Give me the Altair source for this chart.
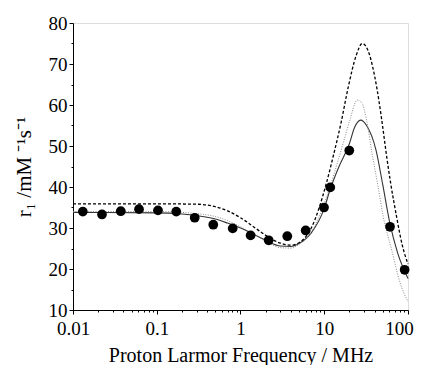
import altair as alt
import pandas as pd

# Measured relaxivity points
pt_freq = [0.0131, 0.0222, 0.0372, 0.0614, 0.1035, 0.171, 0.284, 0.473, 0.807,
           1.32, 2.17, 3.62, 6.0, 9.93, 11.8, 19.9, 61.0, 91.2]
pt_r1 = [34.0, 33.3, 34.1, 34.6, 34.3, 34.0, 32.5, 30.8, 29.9,
         28.2, 27.0, 28.0, 29.4, 35.0, 39.9, 48.9, 30.3, 19.8]

# Fit curve 1 (solid)
solid_freq = [0.01, 0.1, 0.2, 0.3, 0.5, 0.7, 1.0, 1.5, 2.0, 3.0, 4.0, 5.0, 7.0, 10.0,
              11.8, 15.0, 19.9, 23.0, 27.2, 32.0, 41.5, 50.0, 61.0, 75.0, 100.0]
solid_r1 = [33.8, 33.7, 33.4, 33.0, 32.2, 31.2, 30.0, 28.3, 27.0, 25.6, 25.5, 26.2, 28.8, 34.8,
            39.5, 45.0, 50.5, 54.5, 56.3, 55.0, 49.0, 40.5, 31.0, 24.0, 17.7]

# Fit curve 2 (dashed)
dash_freq = [0.01, 0.1, 0.3, 0.5, 0.7, 1.0, 1.5, 2.0, 3.0, 4.0, 5.0, 7.0, 10.6,
             12.8, 16.0, 19.4, 24.0, 28.4, 33.0, 40.0, 45.0, 50.0, 56.0, 62.0, 73.0, 85.0, 100.0]
dash_r1 = [35.9, 35.9, 35.8, 35.2, 34.2, 32.5, 30.0, 28.2, 26.3, 25.8, 26.4, 30.0, 40.9,
           47.5, 56.0, 64.5, 72.0, 75.0, 73.5, 67.0, 61.0, 54.5, 47.0, 41.0, 32.8, 26.0, 21.2]

# Fit curve 3 (dotted)
dot_freq = [0.01, 0.1, 0.3, 0.5, 0.7, 1.0, 1.5, 2.0, 3.0, 4.0, 5.0, 7.0, 10.0, 13.0, 14.7,
            17.0, 20.2, 24.8, 28.0, 32.0, 37.0, 44.0, 50.6, 64.0, 80.0, 100.0]
dot_r1 = [34.0, 34.0, 33.5, 32.8, 31.8, 30.3, 28.3, 26.8, 25.2, 25.1, 26.0, 29.0, 36.0, 43.0, 46.6,
          51.0, 56.3, 61.2, 60.6, 56.3, 48.5, 40.0, 32.8, 24.6, 16.8, 12.0]

x_major = [0.01, 0.1, 1, 10, 100]
x_minor = [m * d for d in [0.01, 0.1, 1, 10] for m in range(2, 10)]
y_major = [10, 20, 30, 40, 50, 60, 70, 80]
y_minor = [15, 25, 35, 45, 55, 65, 75]

FONT = "Liberation Serif"

pts = pd.DataFrame({"f": pt_freq, "r": pt_r1})
solid = pd.DataFrame({"f": solid_freq, "r": solid_r1})
dash = pd.DataFrame({"f": dash_freq, "r": dash_r1})
dot = pd.DataFrame({"f": dot_freq, "r": dot_r1})

xscale = alt.Scale(type="log", domain=[0.01, 100])
yscale = alt.Scale(domain=[10, 80])

x_axis = alt.Axis(values=x_major, format="~g", title="Proton Larmor Frequency / MHz",
                  grid=False, tickSize=4, labelPadding=5, labelFontSize=19, titleFontSize=20,
                  labelFont=FONT, titleFont=FONT, titleFontWeight="normal", titlePadding=7,
                  domainColor="black", tickColor="black", labelColor="black", titleColor="black",
                  orient="bottom", labelFlush=False,
                  labelOffset={"condition": {"test": "datum.value >= 100", "value": -9}, "value": 0})
y_axis = alt.Axis(values=y_major, title="r₁ /mM ⁻¹s⁻¹", grid=False, tickSize=4,
                  labelPadding=2, labelFontSize=19, titleFontSize=21, labelFont=FONT,
                  titleFont=FONT, titleFontWeight="normal", titlePadding=14,
                  domainColor="black", tickColor="black", labelColor="black", titleColor="black",
                  orient="left")

x_minor_axis = alt.Axis(values=x_minor, labels=False, title=None, grid=False, tickSize=2,
                        domain=False, tickColor="black", orient="bottom")
y_minor_axis = alt.Axis(values=y_minor, labels=False, title=None, grid=False, tickSize=2,
                        domain=False, tickColor="black", orient="left")

l_solid = alt.Chart(solid).mark_line(color="#333333", strokeWidth=1.1, interpolate="monotone").encode(
    x=alt.X("f:Q", scale=xscale, axis=x_axis),
    y=alt.Y("r:Q", scale=yscale, axis=y_axis),
)
l_dash = alt.Chart(dash).mark_line(color="black", strokeWidth=1.3, strokeDash=[3, 2],
                                   interpolate="monotone").encode(
    x=alt.X("f:Q", scale=xscale, axis=x_minor_axis),
    y=alt.Y("r:Q", scale=yscale, axis=y_minor_axis),
)
l_dot = alt.Chart(dot).mark_line(color="#888888", strokeWidth=1.0, strokeDash=[1, 1.5],
                                 interpolate="monotone").encode(
    x=alt.X("f:Q", scale=xscale, axis=None),
    y=alt.Y("r:Q", scale=yscale, axis=None),
)
p = alt.Chart(pts).mark_circle(color="black", size=95, opacity=1).encode(
    x=alt.X("f:Q", scale=xscale, axis=None),
    y=alt.Y("r:Q", scale=yscale, axis=None),
)

chart = alt.layer(l_solid, l_dash, l_dot, p).resolve_axis(x="independent", y="independent").properties(
    width=335, height=287,
    autosize=alt.AutoSizeParams(type="none"),
    padding={"left": 65, "top": 15, "right": 7, "bottom": 55},
).configure_view(stroke=None).configure(background="white")

chart.save("out.html", embed_options={"renderer": "svg", "actions": False})
